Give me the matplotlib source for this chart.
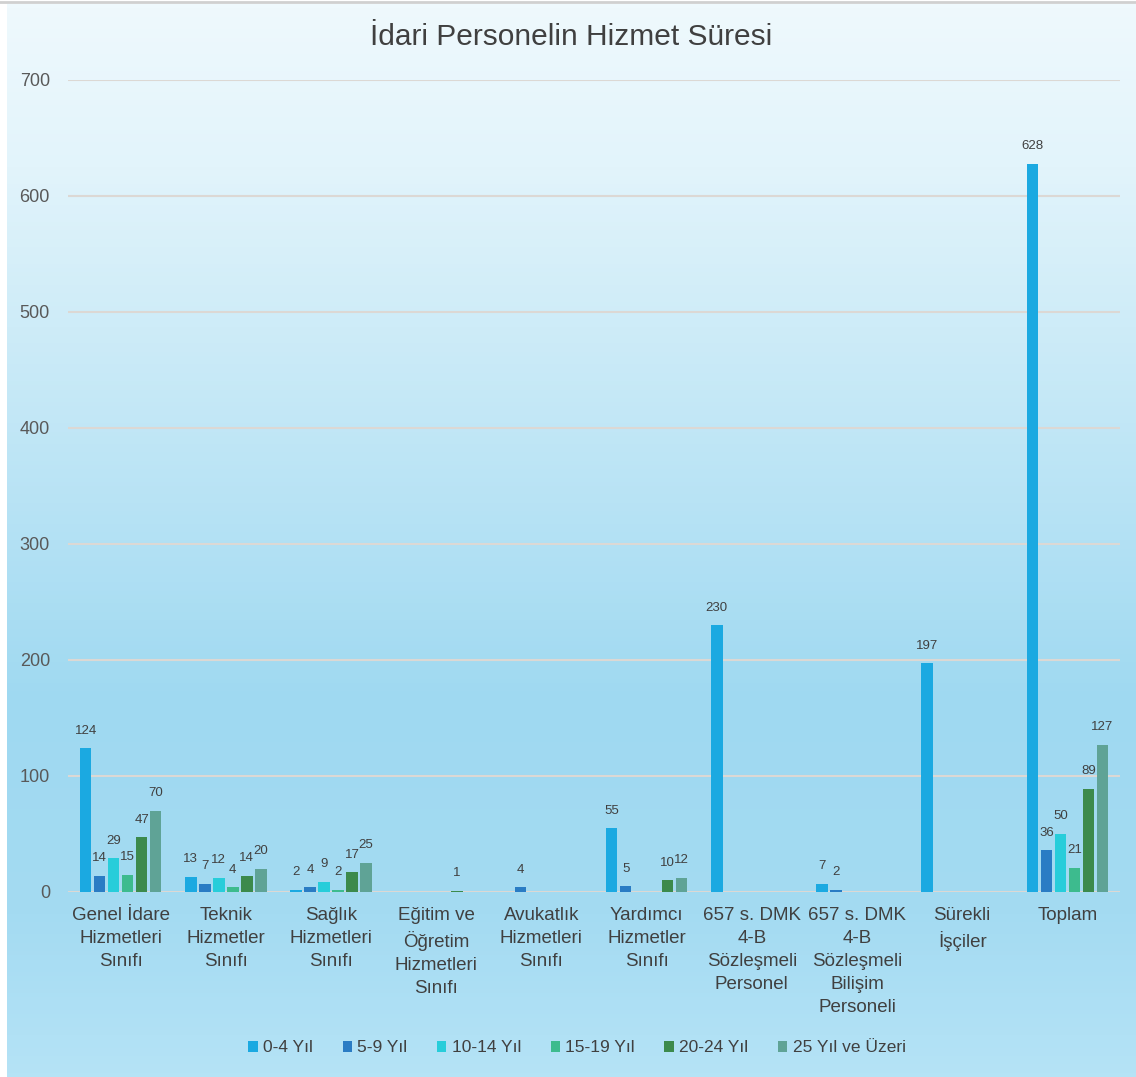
import numpy as np
import matplotlib
matplotlib.use("Agg")
import matplotlib.pyplot as plt
from matplotlib.colors import LinearSegmentedColormap

plt.rcParams["font.family"] = ["Liberation Sans", "DejaVu Sans"]

categories = [
    "Genel İdare\nHizmetleri\nSınıfı",
    "Teknik\nHizmetler\nSınıfı",
    "Sağlık\nHizmetleri\nSınıfı",
    "Eğitim ve\nÖğretim\nHizmetleri\nSınıfı",
    "Avukatlık\nHizmetleri\nSınıfı",
    "Yardımcı\nHizmetler\nSınıfı",
    "657 s. DMK\n4-B\nSözleşmeli\nPersonel",
    "657 s. DMK\n4-B\nSözleşmeli\nBilişim\nPersoneli",
    "Sürekli\nİşçiler",
    "Toplam",
]
series_names = ["0-4 Yıl", "5-9 Yıl", "10-14 Yıl", "15-19 Yıl", "20-24 Yıl", "25 Yıl ve Üzeri"]

# empty cells are None (no bar, no label)
yil_0_4 = [124, 13, 2, None, None, 55, 230, 7, 197, 628]
yil_5_9 = [14, 7, 4, None, 4, 5, None, 2, None, 36]
yil_10_14 = [29, 12, 9, None, None, None, None, None, None, 50]
yil_15_19 = [15, 4, 2, None, None, None, None, None, None, 21]
yil_20_24 = [47, 14, 17, 1, None, 10, None, None, None, 89]
yil_25_plus = [70, 20, 25, None, None, 12, None, None, None, 127]

series = [yil_0_4, yil_5_9, yil_10_14, yil_15_19, yil_20_24, yil_25_plus]
colors = ["#1ba9e1", "#2a7cc4", "#27cdda", "#3dbb8e", "#3c8a4c", "#5fa396"]

W, H = 1136, 1077
fig = plt.figure(figsize=(W / 100, H / 100), dpi=100)
fig.patch.set_facecolor("white")

# gradient backdrop
bg = fig.add_axes([7 / W, 0, 1 - 7 / W, 1 - 4 / H], zorder=-5)
cmap = LinearSegmentedColormap.from_list(
    "bg", [(0, "#eff9fd"), (0.15, "#e2f4fb"), (0.65, "#9fd9f1"), (0.85, "#a4dbf2"), (1, "#b5e3f6")])
bg.imshow(np.linspace(0, 1, 256).reshape(-1, 1), aspect="auto", cmap=cmap,
          extent=[0, 1, 1, 0])
bg.set_axis_off()
fig.add_artist(plt.Line2D([0, 1], [1 - 2 / H, 1 - 2 / H], color="#d0d0d0", lw=2))

ax = fig.add_axes([68 / W, (H - 892) / H, (1120 - 68) / W, (892 - 80) / H])
ax.set_facecolor("none")

x = np.arange(len(categories))
slot = 0.133
width = 0.11
for i, (name, vals, c) in enumerate(zip(series_names, series, colors)):
    pos = x + (i - 2.5) * slot
    h = [np.nan if v is None else v for v in vals]
    bars = ax.bar(pos, h, width=width, color=c, label=name, zorder=3)
    for b, v in zip(bars, vals):
        if v is None:
            continue
        ax.text(b.get_x() + b.get_width() / 2, v + 10, str(v), ha="center", va="bottom",
                fontsize=9.5, color="#404040", zorder=4)

ax.set_xlim(-0.5, len(categories) - 0.5)
ax.set_ylim(0, 700)
ax.set_yticks(range(0, 701, 100))
ax.grid(axis="y", color="#dcd8d4", lw=1.5, zorder=0)
for s in ax.spines.values():
    s.set_visible(False)
ax.tick_params(axis="y", length=0, pad=13, labelsize=13, labelcolor="#595959")
ax.tick_params(axis="x", length=0, pad=11)
ax.set_xticks(x)
ax.set_xticklabels(categories, fontsize=13.5, color="#404040", linespacing=1.45, va="top")

fig.text(0.503, 1 - 37 / H, "İdari Personelin Hizmet Süresi", ha="center", va="center",
         fontsize=21.5, color="#404040")

fig.legend(loc="center", bbox_to_anchor=(577 / W, 1 - 1048 / H), ncol=6, frameon=False,
           fontsize=12.5, handlelength=0.55, handleheight=0.55, handletextpad=0.3,
           columnspacing=1.7, labelcolor="#404040")

fig.savefig("out.png", dpi=100)
